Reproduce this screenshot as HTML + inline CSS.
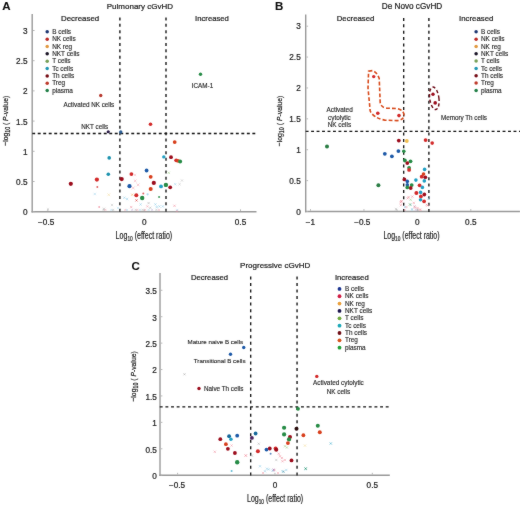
<!DOCTYPE html>
<html><head><meta charset="utf-8"><style>
html,body{margin:0;padding:0;background:#fff;}
svg{display:block;font-family:"Liberation Sans", sans-serif;}
</style></head><body>
<svg width="520" height="506" viewBox="0 0 520 506">
<defs><filter id="bl" x="0" y="0" width="520" height="506" filterUnits="userSpaceOnUse" primitiveUnits="userSpaceOnUse"><feConvolveMatrix order="3" kernelMatrix="1 2 1 2 44 2 1 2 1" divisor="56" edgeMode="none" preserveAlpha="false"/></filter></defs>
<rect width="520" height="506" fill="#fff"/>
<g filter="url(#bl)">
<text x="2.30" y="10.40" font-size="11.5" text-anchor="start" font-weight="bold" fill="#111" stroke="#111" stroke-width="0.1">A</text>
<text x="139.90" y="8.70" font-size="8" text-anchor="middle" font-weight="normal" fill="#242424" stroke="#242424" stroke-width="0.22">Pulmonary cGvHD</text>
<line x1="32.20" y1="14.00" x2="32.20" y2="212.40" stroke="#9a9a9a" stroke-width="1.4"/>
<line x1="31.50" y1="211.70" x2="256.50" y2="211.70" stroke="#9a9a9a" stroke-width="1.4"/>
<line x1="32.90" y1="211.70" x2="34.60" y2="211.70" stroke="#b0b0b0" stroke-width="0.9"/>
<text x="27.50" y="215.15" font-size="8.2" text-anchor="end" font-weight="normal" fill="#242424" stroke="#242424" stroke-width="0.22">0</text>
<line x1="32.90" y1="181.50" x2="34.60" y2="181.50" stroke="#b0b0b0" stroke-width="0.9"/>
<text x="27.50" y="184.95" font-size="8.2" text-anchor="end" font-weight="normal" fill="#242424" stroke="#242424" stroke-width="0.22">0.5</text>
<line x1="32.90" y1="151.30" x2="34.60" y2="151.30" stroke="#b0b0b0" stroke-width="0.9"/>
<text x="27.50" y="154.75" font-size="8.2" text-anchor="end" font-weight="normal" fill="#242424" stroke="#242424" stroke-width="0.22">1</text>
<line x1="32.90" y1="121.10" x2="34.60" y2="121.10" stroke="#b0b0b0" stroke-width="0.9"/>
<text x="27.50" y="124.55" font-size="8.2" text-anchor="end" font-weight="normal" fill="#242424" stroke="#242424" stroke-width="0.22">1.5</text>
<line x1="32.90" y1="90.90" x2="34.60" y2="90.90" stroke="#b0b0b0" stroke-width="0.9"/>
<text x="27.50" y="94.35" font-size="8.2" text-anchor="end" font-weight="normal" fill="#242424" stroke="#242424" stroke-width="0.22">2</text>
<line x1="32.90" y1="60.70" x2="34.60" y2="60.70" stroke="#b0b0b0" stroke-width="0.9"/>
<text x="27.50" y="64.15" font-size="8.2" text-anchor="end" font-weight="normal" fill="#242424" stroke="#242424" stroke-width="0.22">2.5</text>
<line x1="32.90" y1="30.50" x2="34.60" y2="30.50" stroke="#b0b0b0" stroke-width="0.9"/>
<text x="27.50" y="33.95" font-size="8.2" text-anchor="end" font-weight="normal" fill="#242424" stroke="#242424" stroke-width="0.22">3</text>
<line x1="47.87" y1="211.00" x2="47.87" y2="209.30" stroke="#b0b0b0" stroke-width="0.9"/>
<text x="46.17" y="224.70" font-size="8.2" text-anchor="middle" font-weight="normal" fill="#242424" stroke="#242424" stroke-width="0.22">−0.5</text>
<line x1="144.20" y1="211.00" x2="144.20" y2="209.30" stroke="#b0b0b0" stroke-width="0.9"/>
<text x="144.20" y="224.70" font-size="8.2" text-anchor="middle" font-weight="normal" fill="#242424" stroke="#242424" stroke-width="0.22">0</text>
<line x1="240.52" y1="211.00" x2="240.52" y2="209.30" stroke="#b0b0b0" stroke-width="0.9"/>
<text x="240.52" y="224.70" font-size="8.2" text-anchor="middle" font-weight="normal" fill="#242424" stroke="#242424" stroke-width="0.22">0.5</text>
<text transform="translate(8.20,145.70) rotate(-90)" font-size="8.1" fill="#242424" stroke="#242424" stroke-width="0.22" textLength="49.9" lengthAdjust="spacingAndGlyphs">−log<tspan font-size="6.4" dy="2">10</tspan><tspan dy="-2"> ( </tspan><tspan font-style="italic">P</tspan>-value)</text>
<text x="115.60" y="238.90" font-size="10" fill="#242424" stroke="#242424" stroke-width="0.22" textLength="56.6" lengthAdjust="spacingAndGlyphs">Log<tspan font-size="6.8" dy="2">10</tspan><tspan dy="-2"> (effect ratio)</tspan></text>
<line x1="119.90" y1="17.40" x2="119.90" y2="211.71" stroke="#151515" stroke-width="1.35" stroke-dasharray="3.0 3.377"/>
<line x1="166.00" y1="17.40" x2="166.00" y2="211.71" stroke="#151515" stroke-width="1.35" stroke-dasharray="3.0 3.377"/>
<line x1="32.25" y1="133.50" x2="255.25" y2="133.50" stroke="#151515" stroke-width="1.35" stroke-dasharray="2.9 2.603"/>
<text x="61.00" y="21.00" font-size="7.9" text-anchor="start" font-weight="normal" fill="#242424" stroke="#242424" stroke-width="0.22">Decreased</text>
<text x="195.10" y="21.00" font-size="7.7" text-anchor="start" font-weight="normal" fill="#242424" stroke="#242424" stroke-width="0.22">Increased</text>
<circle cx="47.20" cy="31.80" r="1.75" fill="#1e3872"/>
<text x="52.20" y="33.90" font-size="6.4" text-anchor="start" font-weight="normal" fill="#2c2c2c" stroke="#2c2c2c" stroke-width="0.15">B cells</text>
<circle cx="47.20" cy="39.15" r="1.75" fill="#bb2a28"/>
<text x="52.20" y="41.25" font-size="6.4" text-anchor="start" font-weight="normal" fill="#2c2c2c" stroke="#2c2c2c" stroke-width="0.15">NK cells</text>
<circle cx="47.20" cy="46.50" r="1.75" fill="#e29a42"/>
<text x="52.20" y="48.60" font-size="6.4" text-anchor="start" font-weight="normal" fill="#2c2c2c" stroke="#2c2c2c" stroke-width="0.15">NK reg</text>
<circle cx="47.20" cy="53.85" r="1.75" fill="#1a1626"/>
<text x="52.20" y="55.95" font-size="6.4" text-anchor="start" font-weight="normal" fill="#2c2c2c" stroke="#2c2c2c" stroke-width="0.15">NKT cells</text>
<circle cx="47.20" cy="61.20" r="1.75" fill="#78a058"/>
<text x="52.20" y="63.30" font-size="6.4" text-anchor="start" font-weight="normal" fill="#2c2c2c" stroke="#2c2c2c" stroke-width="0.15">T cells</text>
<circle cx="47.20" cy="68.55" r="1.75" fill="#2498b4"/>
<text x="52.20" y="70.65" font-size="6.4" text-anchor="start" font-weight="normal" fill="#2c2c2c" stroke="#2c2c2c" stroke-width="0.15">Tc cells</text>
<circle cx="47.20" cy="75.90" r="1.75" fill="#761018"/>
<text x="52.20" y="78.00" font-size="6.4" text-anchor="start" font-weight="normal" fill="#2c2c2c" stroke="#2c2c2c" stroke-width="0.15">Th cells</text>
<circle cx="47.20" cy="83.25" r="1.75" fill="#be3a2c"/>
<text x="52.20" y="85.35" font-size="6.4" text-anchor="start" font-weight="normal" fill="#2c2c2c" stroke="#2c2c2c" stroke-width="0.15">Treg</text>
<circle cx="47.20" cy="90.60" r="1.75" fill="#228048"/>
<text x="52.20" y="92.70" font-size="6.4" text-anchor="start" font-weight="normal" fill="#2c2c2c" stroke="#2c2c2c" stroke-width="0.15">plasma</text>
<text x="63.50" y="106.70" font-size="6.3" text-anchor="start" font-weight="normal" fill="#2c2c2c" stroke="#2c2c2c" stroke-width="0.15">Activated NK cells</text>
<text x="81.30" y="128.80" font-size="6.3" text-anchor="start" font-weight="normal" fill="#2c2c2c" stroke="#2c2c2c" stroke-width="0.15">NKT cells</text>
<text x="191.80" y="87.80" font-size="6.3" text-anchor="start" font-weight="normal" fill="#2c2c2c" stroke="#2c2c2c" stroke-width="0.15">ICAM-1</text>
<text x="275.00" y="10.40" font-size="11.5" text-anchor="start" font-weight="bold" fill="#111" stroke="#111" stroke-width="0.1">B</text>
<text x="412.00" y="9.30" font-size="8.2" text-anchor="middle" font-weight="normal" fill="#242424" stroke="#242424" stroke-width="0.22">De Novo cGvHD</text>
<line x1="305.70" y1="14.50" x2="305.70" y2="212.20" stroke="#9a9a9a" stroke-width="1.4"/>
<line x1="305.00" y1="211.50" x2="520.00" y2="211.50" stroke="#9a9a9a" stroke-width="1.4"/>
<line x1="306.40" y1="211.50" x2="308.10" y2="211.50" stroke="#b0b0b0" stroke-width="0.9"/>
<text x="300.70" y="214.50" font-size="8.2" text-anchor="end" font-weight="normal" fill="#242424" stroke="#242424" stroke-width="0.22">0</text>
<line x1="306.40" y1="180.62" x2="308.10" y2="180.62" stroke="#b0b0b0" stroke-width="0.9"/>
<text x="300.70" y="183.62" font-size="8.2" text-anchor="end" font-weight="normal" fill="#242424" stroke="#242424" stroke-width="0.22">0.5</text>
<line x1="306.40" y1="149.73" x2="308.10" y2="149.73" stroke="#b0b0b0" stroke-width="0.9"/>
<text x="300.70" y="152.73" font-size="8.2" text-anchor="end" font-weight="normal" fill="#242424" stroke="#242424" stroke-width="0.22">1</text>
<line x1="306.40" y1="118.84" x2="308.10" y2="118.84" stroke="#b0b0b0" stroke-width="0.9"/>
<text x="300.70" y="121.84" font-size="8.2" text-anchor="end" font-weight="normal" fill="#242424" stroke="#242424" stroke-width="0.22">1.5</text>
<line x1="306.40" y1="87.96" x2="308.10" y2="87.96" stroke="#b0b0b0" stroke-width="0.9"/>
<text x="300.70" y="90.96" font-size="8.2" text-anchor="end" font-weight="normal" fill="#242424" stroke="#242424" stroke-width="0.22">2</text>
<line x1="306.40" y1="57.07" x2="308.10" y2="57.07" stroke="#b0b0b0" stroke-width="0.9"/>
<text x="300.70" y="60.07" font-size="8.2" text-anchor="end" font-weight="normal" fill="#242424" stroke="#242424" stroke-width="0.22">2.5</text>
<line x1="306.40" y1="26.19" x2="308.10" y2="26.19" stroke="#b0b0b0" stroke-width="0.9"/>
<text x="300.70" y="29.19" font-size="8.2" text-anchor="end" font-weight="normal" fill="#242424" stroke="#242424" stroke-width="0.22">3</text>
<line x1="310.50" y1="210.80" x2="310.50" y2="209.10" stroke="#b0b0b0" stroke-width="0.9"/>
<text x="310.50" y="224.70" font-size="8.2" text-anchor="middle" font-weight="normal" fill="#242424" stroke="#242424" stroke-width="0.22">−1</text>
<line x1="363.94" y1="210.80" x2="363.94" y2="209.10" stroke="#b0b0b0" stroke-width="0.9"/>
<text x="362.33" y="224.70" font-size="8.2" text-anchor="middle" font-weight="normal" fill="#242424" stroke="#242424" stroke-width="0.22">−0.5</text>
<line x1="417.37" y1="210.80" x2="417.37" y2="209.10" stroke="#b0b0b0" stroke-width="0.9"/>
<text x="417.37" y="224.70" font-size="8.2" text-anchor="middle" font-weight="normal" fill="#242424" stroke="#242424" stroke-width="0.22">0</text>
<line x1="470.81" y1="210.80" x2="470.81" y2="209.10" stroke="#b0b0b0" stroke-width="0.9"/>
<text x="470.81" y="224.70" font-size="8.2" text-anchor="middle" font-weight="normal" fill="#242424" stroke="#242424" stroke-width="0.22">0.5</text>
<text transform="translate(281.50,146.30) rotate(-90)" font-size="8.1" fill="#242424" stroke="#242424" stroke-width="0.22" textLength="50.7" lengthAdjust="spacingAndGlyphs">−log<tspan font-size="6.4" dy="2">10</tspan><tspan dy="-2"> ( </tspan><tspan font-style="italic">P</tspan>-value)</text>
<text x="383.40" y="239.10" font-size="10" fill="#242424" stroke="#242424" stroke-width="0.22" textLength="56.2" lengthAdjust="spacingAndGlyphs">Log<tspan font-size="6.8" dy="2">10</tspan><tspan dy="-2"> (effect ratio)</tspan></text>
<line x1="403.70" y1="17.90" x2="403.70" y2="212.09" stroke="#151515" stroke-width="1.35" stroke-dasharray="3.0 3.373"/>
<line x1="428.90" y1="17.90" x2="428.90" y2="212.09" stroke="#151515" stroke-width="1.35" stroke-dasharray="3.0 3.373"/>
<line x1="305.65" y1="131.40" x2="521.88" y2="131.40" stroke="#151515" stroke-width="1.35" stroke-dasharray="2.9 2.570"/>
<text x="336.70" y="21.10" font-size="7.8" text-anchor="start" font-weight="normal" fill="#242424" stroke="#242424" stroke-width="0.22">Decreased</text>
<text x="459.10" y="21.10" font-size="7.8" text-anchor="start" font-weight="normal" fill="#242424" stroke="#242424" stroke-width="0.22">Increased</text>
<circle cx="476.10" cy="31.80" r="1.75" fill="#1e3872"/>
<text x="481.00" y="33.90" font-size="6.4" text-anchor="start" font-weight="normal" fill="#2c2c2c" stroke="#2c2c2c" stroke-width="0.15">B cells</text>
<circle cx="476.10" cy="39.13" r="1.75" fill="#bb2a28"/>
<text x="481.00" y="41.23" font-size="6.4" text-anchor="start" font-weight="normal" fill="#2c2c2c" stroke="#2c2c2c" stroke-width="0.15">NK cells</text>
<circle cx="476.10" cy="46.46" r="1.75" fill="#e29a42"/>
<text x="481.00" y="48.56" font-size="6.4" text-anchor="start" font-weight="normal" fill="#2c2c2c" stroke="#2c2c2c" stroke-width="0.15">NK reg</text>
<circle cx="476.10" cy="53.79" r="1.75" fill="#1a1626"/>
<text x="481.00" y="55.89" font-size="6.4" text-anchor="start" font-weight="normal" fill="#2c2c2c" stroke="#2c2c2c" stroke-width="0.15">NKT cells</text>
<circle cx="476.10" cy="61.12" r="1.75" fill="#78a058"/>
<text x="481.00" y="63.22" font-size="6.4" text-anchor="start" font-weight="normal" fill="#2c2c2c" stroke="#2c2c2c" stroke-width="0.15">T cells</text>
<circle cx="476.10" cy="68.45" r="1.75" fill="#2498b4"/>
<text x="481.00" y="70.55" font-size="6.4" text-anchor="start" font-weight="normal" fill="#2c2c2c" stroke="#2c2c2c" stroke-width="0.15">Tc cells</text>
<circle cx="476.10" cy="75.78" r="1.75" fill="#761018"/>
<text x="481.00" y="77.88" font-size="6.4" text-anchor="start" font-weight="normal" fill="#2c2c2c" stroke="#2c2c2c" stroke-width="0.15">Th cells</text>
<circle cx="476.10" cy="83.11" r="1.75" fill="#be3a2c"/>
<text x="481.00" y="85.21" font-size="6.4" text-anchor="start" font-weight="normal" fill="#2c2c2c" stroke="#2c2c2c" stroke-width="0.15">Treg</text>
<circle cx="476.10" cy="90.44" r="1.75" fill="#228048"/>
<text x="481.00" y="92.54" font-size="6.4" text-anchor="start" font-weight="normal" fill="#2c2c2c" stroke="#2c2c2c" stroke-width="0.15">plasma</text>
<text x="339.60" y="111.50" font-size="6.4" text-anchor="middle" font-weight="normal" fill="#2c2c2c" stroke="#2c2c2c" stroke-width="0.15">Activated</text>
<text x="339.40" y="119.80" font-size="6.4" text-anchor="middle" font-weight="normal" fill="#2c2c2c" stroke="#2c2c2c" stroke-width="0.15">cytolytic</text>
<text x="339.40" y="127.30" font-size="6.4" text-anchor="middle" font-weight="normal" fill="#2c2c2c" stroke="#2c2c2c" stroke-width="0.15">NK cells</text>
<text x="440.90" y="120.00" font-size="6.3" text-anchor="start" font-weight="normal" fill="#2c2c2c" stroke="#2c2c2c" stroke-width="0.15">Memory Th cells</text>
<path d="M368.6 71.2 L372.4 70.6 Q377.2 72.4 379.2 78.5 L380.2 102.5 Q381.2 107.6 386.5 108.1 L397.5 108.6 Q403.8 110.2 404.0 115.2 Q403.6 120.2 397.0 120.6 L385.0 120.2 Q373.6 118.0 370.2 111.0 L368.0 88.0 Z" fill="none" stroke="#d84c1c" stroke-width="1.6" stroke-dasharray="3.8 2.1"/>
<ellipse cx="434.3" cy="98.3" rx="4.6" ry="11.3" transform="rotate(-8 434.3 98.3)" fill="none" stroke="#6e1018" stroke-width="1.45" stroke-dasharray="3.2 2.3"/>
<text x="131.50" y="269.60" font-size="11.5" text-anchor="start" font-weight="bold" fill="#111" stroke="#111" stroke-width="0.1">C</text>
<text x="275.20" y="267.70" font-size="8" text-anchor="middle" font-weight="normal" fill="#242424" stroke="#242424" stroke-width="0.22">Progressive cGvHD</text>
<line x1="160.00" y1="273.00" x2="160.00" y2="475.90" stroke="#9a9a9a" stroke-width="1.4"/>
<line x1="159.30" y1="475.20" x2="389.80" y2="475.20" stroke="#9a9a9a" stroke-width="1.4"/>
<line x1="160.70" y1="475.20" x2="162.40" y2="475.20" stroke="#b0b0b0" stroke-width="0.9"/>
<text x="156.80" y="479.10" font-size="8.2" text-anchor="end" font-weight="normal" fill="#242424" stroke="#242424" stroke-width="0.22">0</text>
<line x1="160.70" y1="448.78" x2="162.40" y2="448.78" stroke="#b0b0b0" stroke-width="0.9"/>
<text x="156.80" y="452.68" font-size="8.2" text-anchor="end" font-weight="normal" fill="#242424" stroke="#242424" stroke-width="0.22">0.5</text>
<line x1="160.70" y1="422.37" x2="162.40" y2="422.37" stroke="#b0b0b0" stroke-width="0.9"/>
<text x="156.80" y="426.27" font-size="8.2" text-anchor="end" font-weight="normal" fill="#242424" stroke="#242424" stroke-width="0.22">1</text>
<line x1="160.70" y1="395.95" x2="162.40" y2="395.95" stroke="#b0b0b0" stroke-width="0.9"/>
<text x="156.80" y="399.85" font-size="8.2" text-anchor="end" font-weight="normal" fill="#242424" stroke="#242424" stroke-width="0.22">1.5</text>
<line x1="160.70" y1="369.54" x2="162.40" y2="369.54" stroke="#b0b0b0" stroke-width="0.9"/>
<text x="156.80" y="373.44" font-size="8.2" text-anchor="end" font-weight="normal" fill="#242424" stroke="#242424" stroke-width="0.22">2</text>
<line x1="160.70" y1="343.12" x2="162.40" y2="343.12" stroke="#b0b0b0" stroke-width="0.9"/>
<text x="156.80" y="347.02" font-size="8.2" text-anchor="end" font-weight="normal" fill="#242424" stroke="#242424" stroke-width="0.22">2.5</text>
<line x1="160.70" y1="316.71" x2="162.40" y2="316.71" stroke="#b0b0b0" stroke-width="0.9"/>
<text x="156.80" y="320.61" font-size="8.2" text-anchor="end" font-weight="normal" fill="#242424" stroke="#242424" stroke-width="0.22">3</text>
<line x1="160.70" y1="290.29" x2="162.40" y2="290.29" stroke="#b0b0b0" stroke-width="0.9"/>
<text x="156.80" y="294.19" font-size="8.2" text-anchor="end" font-weight="normal" fill="#242424" stroke="#242424" stroke-width="0.22">3.5</text>
<line x1="177.60" y1="474.50" x2="177.60" y2="472.80" stroke="#b0b0b0" stroke-width="0.9"/>
<text x="177.00" y="488.00" font-size="8.2" text-anchor="middle" font-weight="normal" fill="#242424" stroke="#242424" stroke-width="0.22">−0.5</text>
<line x1="274.95" y1="474.50" x2="274.95" y2="472.80" stroke="#b0b0b0" stroke-width="0.9"/>
<text x="274.95" y="488.00" font-size="8.2" text-anchor="middle" font-weight="normal" fill="#242424" stroke="#242424" stroke-width="0.22">0</text>
<line x1="372.30" y1="474.50" x2="372.30" y2="472.80" stroke="#b0b0b0" stroke-width="0.9"/>
<text x="372.30" y="488.00" font-size="8.2" text-anchor="middle" font-weight="normal" fill="#242424" stroke="#242424" stroke-width="0.22">0.5</text>
<text transform="translate(135.80,401.60) rotate(-90)" font-size="8.1" fill="#242424" stroke="#242424" stroke-width="0.22" textLength="50.3" lengthAdjust="spacingAndGlyphs">−log<tspan font-size="6.4" dy="2">10</tspan><tspan dy="-2"> ( </tspan><tspan font-style="italic">P</tspan>-value)</text>
<text x="247.00" y="501.90" font-size="10" fill="#242424" stroke="#242424" stroke-width="0.22" textLength="56.2" lengthAdjust="spacingAndGlyphs">Log<tspan font-size="6.8" dy="2">10</tspan><tspan dy="-2"> (effect ratio)</tspan></text>
<line x1="250.70" y1="276.50" x2="250.70" y2="475.40" stroke="#151515" stroke-width="1.35" stroke-dasharray="3.0 3.530"/>
<line x1="297.05" y1="276.50" x2="297.05" y2="475.40" stroke="#151515" stroke-width="1.35" stroke-dasharray="3.0 3.530"/>
<line x1="159.75" y1="406.90" x2="388.65" y2="406.90" stroke="#151515" stroke-width="1.35" stroke-dasharray="2.9 2.750"/>
<text x="190.90" y="279.50" font-size="7.7" text-anchor="start" font-weight="normal" fill="#242424" stroke="#242424" stroke-width="0.22">Decreased</text>
<text x="334.90" y="279.90" font-size="7.7" text-anchor="start" font-weight="normal" fill="#242424" stroke="#242424" stroke-width="0.22">Increased</text>
<circle cx="339.50" cy="288.90" r="1.9" fill="#1a3590"/>
<text x="345.00" y="291.00" font-size="6.4" text-anchor="start" font-weight="normal" fill="#2c2c2c" stroke="#2c2c2c" stroke-width="0.15">B cells</text>
<circle cx="339.50" cy="296.25" r="1.9" fill="#d01f45"/>
<text x="345.00" y="298.35" font-size="6.4" text-anchor="start" font-weight="normal" fill="#2c2c2c" stroke="#2c2c2c" stroke-width="0.15">NK cells</text>
<circle cx="339.50" cy="303.60" r="1.9" fill="#eaa03c"/>
<text x="345.00" y="305.70" font-size="6.4" text-anchor="start" font-weight="normal" fill="#2c2c2c" stroke="#2c2c2c" stroke-width="0.15">NK reg</text>
<circle cx="339.50" cy="310.95" r="1.9" fill="#1a164e"/>
<text x="345.00" y="313.05" font-size="6.4" text-anchor="start" font-weight="normal" fill="#2c2c2c" stroke="#2c2c2c" stroke-width="0.15">NKT cells</text>
<circle cx="339.50" cy="318.30" r="1.9" fill="#72aa40"/>
<text x="345.00" y="320.40" font-size="6.4" text-anchor="start" font-weight="normal" fill="#2c2c2c" stroke="#2c2c2c" stroke-width="0.15">T cells</text>
<circle cx="339.50" cy="325.65" r="1.9" fill="#1aa8b8"/>
<text x="345.00" y="327.75" font-size="6.4" text-anchor="start" font-weight="normal" fill="#2c2c2c" stroke="#2c2c2c" stroke-width="0.15">Tc cells</text>
<circle cx="339.50" cy="333.00" r="1.9" fill="#700c18"/>
<text x="345.00" y="335.10" font-size="6.4" text-anchor="start" font-weight="normal" fill="#2c2c2c" stroke="#2c2c2c" stroke-width="0.15">Th cells</text>
<circle cx="339.50" cy="340.35" r="1.9" fill="#d8521c"/>
<text x="345.00" y="342.45" font-size="6.4" text-anchor="start" font-weight="normal" fill="#2c2c2c" stroke="#2c2c2c" stroke-width="0.15">Treg</text>
<circle cx="339.50" cy="347.70" r="1.9" fill="#22a03a"/>
<text x="345.00" y="349.80" font-size="6.4" text-anchor="start" font-weight="normal" fill="#2c2c2c" stroke="#2c2c2c" stroke-width="0.15">plasma</text>
<text x="187.50" y="344.00" font-size="6.2" text-anchor="start" font-weight="normal" fill="#2c2c2c" stroke="#2c2c2c" stroke-width="0.15">Mature naive B cells</text>
<text x="193.80" y="362.80" font-size="6.2" text-anchor="start" font-weight="normal" fill="#2c2c2c" stroke="#2c2c2c" stroke-width="0.15">Transitional B cells</text>
<text x="204.00" y="391.30" font-size="6.3" text-anchor="start" font-weight="normal" fill="#2c2c2c" stroke="#2c2c2c" stroke-width="0.15">Naive Th cells</text>
<text x="338.40" y="385.30" font-size="6.4" text-anchor="middle" font-weight="normal" fill="#2c2c2c" stroke="#2c2c2c" stroke-width="0.15">Activated cytolytic</text>
<text x="338.40" y="394.00" font-size="6.4" text-anchor="middle" font-weight="normal" fill="#2c2c2c" stroke="#2c2c2c" stroke-width="0.15">NK cells</text>
<circle cx="100.75" cy="95.50" r="1.7000000000000002" fill="#b83a30"/>
<circle cx="108.25" cy="131.75" r="1.6" fill="#2c1a48"/>
<circle cx="120.75" cy="132.00" r="1.7000000000000002" fill="#2b5f96"/>
<circle cx="150.50" cy="124.25" r="1.8" fill="#d32a2a"/>
<circle cx="200.50" cy="74.25" r="1.7000000000000002" fill="#278c46"/>
<circle cx="174.70" cy="142.10" r="1.9000000000000001" fill="#d8401e"/>
<circle cx="70.80" cy="183.80" r="2.1" fill="#9c0f1e"/>
<circle cx="96.90" cy="179.60" r="2.1" fill="#d32a2a"/>
<circle cx="97.30" cy="186.90" r="1.0" fill="#d32a2a" fill-opacity="0.7"/>
<circle cx="109.20" cy="157.90" r="1.8" fill="#1a92ae"/>
<circle cx="108.30" cy="174.20" r="1.8" fill="#1a92ae"/>
<path d="M93.65 192.85L95.95 195.15M93.65 195.15L95.95 192.85" stroke="#8ccbe8" stroke-width="0.85" stroke-opacity="0.50" fill="none"/>
<path d="M107.42 193.42L110.18 196.18M107.42 196.18L110.18 193.42" stroke="#f2d58a" stroke-width="0.85" stroke-opacity="0.50" fill="none"/>
<circle cx="99.20" cy="207.00" r="1.0" fill="#f08a9a" fill-opacity="0.7"/>
<path d="M102.85 207.65L105.15 209.95M102.85 209.95L105.15 207.65" stroke="#a0a0a0" stroke-width="0.85" stroke-opacity="0.50" fill="none"/>
<circle cx="121.70" cy="179.10" r="2.1" fill="#9c0f1e"/>
<circle cx="131.40" cy="174.10" r="1.9000000000000001" fill="#d32a2a"/>
<circle cx="146.60" cy="170.50" r="1.9000000000000001" fill="#1f5aa8"/>
<circle cx="150.70" cy="176.80" r="1.9000000000000001" fill="#d8401e"/>
<circle cx="153.80" cy="182.90" r="2.1" fill="#9c0f1e"/>
<circle cx="129.50" cy="186.20" r="2.1" fill="#1f5aa8"/>
<path d="M131.70 186.50L134.69 189.50M131.70 189.50L134.69 186.50" stroke="#f08a9a" stroke-width="0.85" stroke-opacity="0.50" fill="none"/>
<path d="M133.82 179.52L136.58 182.28M133.82 182.28L136.58 179.52" stroke="#f08a9a" stroke-width="0.85" stroke-opacity="0.50" fill="none"/>
<path d="M136.72 183.52L139.48 186.28M136.72 186.28L139.48 183.52" stroke="#f08a9a" stroke-width="0.85" stroke-opacity="0.50" fill="none"/>
<circle cx="150.70" cy="188.90" r="2.0" fill="#d8401e"/>
<circle cx="136.30" cy="195.30" r="2.0" fill="#d32a2a"/>
<path d="M131.05 193.55L133.35 195.85M131.05 195.85L133.35 193.55" stroke="#f2a244" stroke-width="0.85" stroke-opacity="0.50" fill="none"/>
<circle cx="142.20" cy="198.00" r="2.2" fill="#278c46"/>
<circle cx="143.30" cy="193.60" r="1.0" fill="#d32a2a" fill-opacity="0.7"/>
<path d="M135.35 199.25L137.65 201.55M135.35 201.55L137.65 199.25" stroke="#d32a2a" stroke-width="0.85" stroke-opacity="0.60" fill="none"/>
<circle cx="147.60" cy="194.30" r="1.1" fill="#8ccbe8" fill-opacity="0.7"/>
<circle cx="159.10" cy="197.00" r="1.1" fill="#278c46" fill-opacity="0.8"/>
<circle cx="161.00" cy="186.40" r="1.9000000000000001" fill="#22a0c4"/>
<circle cx="165.90" cy="184.90" r="2.2" fill="#278c46"/>
<circle cx="170.20" cy="187.30" r="1.9000000000000001" fill="#9c0f1e"/>
<path d="M167.65 171.65L169.95 173.95M167.65 173.95L169.95 171.65" stroke="#9fd08a" stroke-width="0.85" stroke-opacity="0.60" fill="none"/>
<path d="M174.05 183.05L176.35 185.35M174.05 185.35L176.35 183.05" stroke="#8ccbe8" stroke-width="0.85" stroke-opacity="0.50" fill="none"/>
<path d="M178.45 183.05L180.75 185.35M178.45 185.35L180.75 183.05" stroke="#a0a0a0" stroke-width="0.85" stroke-opacity="0.40" fill="none"/>
<path d="M180.85 179.35L183.15 181.65M180.85 181.65L183.15 179.35" stroke="#a0a0a0" stroke-width="0.85" stroke-opacity="0.40" fill="none"/>
<path d="M123.25 196.55L125.55 198.85M123.25 198.85L125.55 196.55" stroke="#8ccbe8" stroke-width="0.85" stroke-opacity="0.60" fill="none"/>
<path d="M125.95 197.85L128.25 200.15M125.95 200.15L128.25 197.85" stroke="#8ccbe8" stroke-width="0.85" stroke-opacity="0.60" fill="none"/>
<path d="M139.45 203.25L141.75 205.55M139.45 205.55L141.75 203.25" stroke="#8ccbe8" stroke-width="0.85" stroke-opacity="0.60" fill="none"/>
<path d="M130.05 205.95L132.35 208.25M130.05 208.25L132.35 205.95" stroke="#f08a9a" stroke-width="0.85" stroke-opacity="0.60" fill="none"/>
<path d="M147.45 201.95L149.75 204.25M147.45 204.25L149.75 201.95" stroke="#a0a0a0" stroke-width="0.85" stroke-opacity="0.50" fill="none"/>
<path d="M146.15 205.25L148.45 207.55M146.15 207.55L148.45 205.25" stroke="#f08a9a" stroke-width="0.85" stroke-opacity="0.50" fill="none"/>
<path d="M149.15 206.65L151.45 208.95M149.15 208.95L151.45 206.65" stroke="#a0a0a0" stroke-width="0.85" stroke-opacity="0.50" fill="none"/>
<path d="M154.25 203.25L156.55 205.55M154.25 205.55L156.55 203.25" stroke="#8ccbe8" stroke-width="0.85" stroke-opacity="0.60" fill="none"/>
<path d="M155.55 205.95L157.85 208.25M155.55 208.25L157.85 205.95" stroke="#8ccbe8" stroke-width="0.85" stroke-opacity="0.60" fill="none"/>
<path d="M158.25 205.25L160.55 207.55M158.25 207.55L160.55 205.25" stroke="#8ccbe8" stroke-width="0.85" stroke-opacity="0.60" fill="none"/>
<path d="M161.65 205.25L163.95 207.55M161.65 207.55L163.95 205.25" stroke="#8ccbe8" stroke-width="0.85" stroke-opacity="0.60" fill="none"/>
<path d="M173.35 204.65L175.65 206.95M173.35 206.95L175.65 204.65" stroke="#f08a9a" stroke-width="0.85" stroke-opacity="0.60" fill="none"/>
<path d="M175.75 209.85L178.05 212.15M175.75 212.15L178.05 209.85" stroke="#f08a9a" stroke-width="0.85" stroke-opacity="0.50" fill="none"/>
<circle cx="171.00" cy="157.20" r="1.9000000000000001" fill="#9c0f1e"/>
<circle cx="163.80" cy="156.90" r="1.7000000000000002" fill="#22a0c4"/>
<circle cx="176.20" cy="160.30" r="1.9000000000000001" fill="#d32a2a"/>
<circle cx="178.00" cy="160.80" r="1.9000000000000001" fill="#d8401e"/>
<circle cx="180.10" cy="161.60" r="2.0" fill="#278c46"/>
<path d="M133.85 173.85L136.15 176.15M133.85 176.15L136.15 173.85" stroke="#f08a9a" stroke-width="0.85" stroke-opacity="0.40" fill="none"/>
<path d="M110.85 203.85L113.15 206.15M110.85 206.15L113.15 203.85" stroke="#a0a0a0" stroke-width="0.85" stroke-opacity="0.40" fill="none"/>
<path d="M116.85 206.85L119.15 209.15M116.85 209.15L119.15 206.85" stroke="#8ccbe8" stroke-width="0.85" stroke-opacity="0.40" fill="none"/>
<path d="M46.85 207.85L49.15 210.15M46.85 210.15L49.15 207.85" stroke="#a0a0a0" stroke-width="0.85" stroke-opacity="0.30" fill="none"/>
<circle cx="373.70" cy="76.60" r="1.7000000000000002" fill="#d32a2a"/>
<circle cx="377.80" cy="113.20" r="1.8" fill="#d32a2a"/>
<circle cx="399.00" cy="115.60" r="1.8" fill="#d32a2a"/>
<circle cx="433.00" cy="94.20" r="1.7000000000000002" fill="#9c0f1e"/>
<circle cx="435.20" cy="102.90" r="1.8" fill="#9c0f1e"/>
<circle cx="327.00" cy="146.50" r="2.0" fill="#2a7e44"/>
<circle cx="378.40" cy="185.20" r="2.0" fill="#2a7e44"/>
<circle cx="398.80" cy="140.60" r="1.9000000000000001" fill="#9c0f1e"/>
<circle cx="406.80" cy="141.00" r="1.9000000000000001" fill="#f0b840" fill-opacity="0.9"/>
<circle cx="425.60" cy="140.10" r="1.9000000000000001" fill="#d32a2a"/>
<circle cx="432.20" cy="143.10" r="1.8" fill="#d32a2a"/>
<circle cx="384.80" cy="153.80" r="1.9000000000000001" fill="#1f5aa8"/>
<circle cx="391.90" cy="156.30" r="1.9000000000000001" fill="#1f5aa8"/>
<circle cx="398.40" cy="151.10" r="1.9000000000000001" fill="#1f5aa8"/>
<circle cx="403.80" cy="151.30" r="1.8" fill="#278c46"/>
<circle cx="404.90" cy="160.50" r="1.9000000000000001" fill="#278c46"/>
<circle cx="410.50" cy="161.30" r="1.9000000000000001" fill="#278c46"/>
<circle cx="407.30" cy="163.10" r="1.9000000000000001" fill="#9c0f1e"/>
<circle cx="409.10" cy="167.80" r="1.9000000000000001" fill="#278c46"/>
<circle cx="409.10" cy="169.90" r="1.9000000000000001" fill="#d32a2a"/>
<circle cx="424.60" cy="169.40" r="1.8" fill="#22a0c4"/>
<circle cx="423.50" cy="174.10" r="1.8" fill="#d8401e"/>
<circle cx="421.70" cy="176.70" r="1.9000000000000001" fill="#d32a2a"/>
<circle cx="425.30" cy="177.30" r="1.9000000000000001" fill="#9c0f1e"/>
<circle cx="424.30" cy="180.90" r="1.8" fill="#22a0c4"/>
<circle cx="404.40" cy="179.40" r="1.9000000000000001" fill="#9c0f1e"/>
<circle cx="407.30" cy="181.40" r="1.8" fill="#1f5aa8"/>
<circle cx="415.90" cy="180.10" r="1.8" fill="#22a0c4"/>
<circle cx="407.30" cy="184.90" r="1.8" fill="#1f5aa8"/>
<circle cx="411.70" cy="185.10" r="1.9000000000000001" fill="#278c46"/>
<circle cx="407.30" cy="187.40" r="1.9000000000000001" fill="#278c46"/>
<circle cx="410.70" cy="188.00" r="1.9000000000000001" fill="#9c0f1e"/>
<circle cx="419.60" cy="185.30" r="1.9000000000000001" fill="#d32a2a"/>
<circle cx="422.40" cy="187.40" r="1.8" fill="#22a0c4"/>
<circle cx="416.40" cy="193.00" r="2.0" fill="#d32a2a"/>
<circle cx="420.60" cy="192.40" r="1.8" fill="#22a0c4"/>
<circle cx="424.30" cy="194.50" r="1.9000000000000001" fill="#9c0f1e"/>
<circle cx="420.90" cy="196.40" r="1.9000000000000001" fill="#d32a2a"/>
<circle cx="420.60" cy="199.70" r="1.8" fill="#22a0c4"/>
<circle cx="424.10" cy="201.30" r="1.9000000000000001" fill="#d32a2a"/>
<path d="M407.45 195.95L409.75 198.25M407.45 198.25L409.75 195.95" stroke="#f08a9a" stroke-width="0.85" stroke-opacity="0.60" fill="none"/>
<path d="M411.15 195.45L413.45 197.75M411.15 197.75L413.45 195.45" stroke="#f08a9a" stroke-width="0.85" stroke-opacity="0.60" fill="none"/>
<path d="M409.55 198.55L411.85 200.85M409.55 200.85L411.85 198.55" stroke="#9fd08a" stroke-width="0.85" stroke-opacity="0.60" fill="none"/>
<path d="M400.35 200.15L402.65 202.45M400.35 202.45L402.65 200.15" stroke="#f08a9a" stroke-width="0.85" stroke-opacity="0.60" fill="none"/>
<path d="M399.65 201.25L401.95 203.55M399.65 203.55L401.95 201.25" stroke="#f08a9a" stroke-width="0.85" stroke-opacity="0.60" fill="none"/>
<path d="M408.45 203.35L410.75 205.65M408.45 205.65L410.75 203.35" stroke="#9fd08a" stroke-width="0.85" stroke-opacity="0.60" fill="none"/>
<path d="M412.65 201.75L414.95 204.05M412.65 204.05L414.95 201.75" stroke="#f08a9a" stroke-width="0.85" stroke-opacity="0.60" fill="none"/>
<path d="M413.75 206.45L416.05 208.75M413.75 208.75L416.05 206.45" stroke="#f08a9a" stroke-width="0.85" stroke-opacity="0.60" fill="none"/>
<path d="M416.35 206.95L418.65 209.25M416.35 209.25L418.65 206.95" stroke="#f08a9a" stroke-width="0.85" stroke-opacity="0.60" fill="none"/>
<path d="M403.75 205.95L406.05 208.25M403.75 208.25L406.05 205.95" stroke="#8ccbe8" stroke-width="0.85" stroke-opacity="0.60" fill="none"/>
<path d="M426.25 204.35L428.55 206.65M426.25 206.65L428.55 204.35" stroke="#f08a9a" stroke-width="0.85" stroke-opacity="0.60" fill="none"/>
<path d="M427.35 197.55L429.65 199.85M427.35 199.85L429.65 197.55" stroke="#8ccbe8" stroke-width="0.85" stroke-opacity="0.60" fill="none"/>
<path d="M410.85 207.85L413.15 210.15M410.85 210.15L413.15 207.85" stroke="#8ccbe8" stroke-width="0.85" stroke-opacity="0.50" fill="none"/>
<path d="M418.85 208.35L421.15 210.65M418.85 210.65L421.15 208.35" stroke="#f08a9a" stroke-width="0.85" stroke-opacity="0.50" fill="none"/>
<path d="M394.85 207.85L397.15 210.15M394.85 210.15L397.15 207.85" stroke="#a0a0a0" stroke-width="0.85" stroke-opacity="0.40" fill="none"/>
<circle cx="243.75" cy="347.50" r="1.7000000000000002" fill="#1f5aa8"/>
<circle cx="230.50" cy="354.30" r="1.7000000000000002" fill="#1f5aa8"/>
<circle cx="199.00" cy="388.50" r="1.7000000000000002" fill="#9c0f1e"/>
<path d="M183.47 373.26L185.53 375.34M183.47 375.34L185.53 373.26" stroke="#a0a0a0" stroke-width="0.85" stroke-opacity="0.60" fill="none"/>
<circle cx="316.80" cy="376.40" r="1.7000000000000002" fill="#d32a2a"/>
<circle cx="298.00" cy="408.80" r="1.9000000000000001" fill="#278c46"/>
<circle cx="220.30" cy="439.20" r="1.9000000000000001" fill="#9c0f1e"/>
<circle cx="229.10" cy="436.20" r="1.9000000000000001" fill="#12679a"/>
<circle cx="230.90" cy="439.20" r="1.8" fill="#22a0c4"/>
<circle cx="237.20" cy="435.70" r="1.9000000000000001" fill="#1f5aa8"/>
<circle cx="225.90" cy="444.20" r="1.9000000000000001" fill="#d8401e"/>
<circle cx="227.90" cy="448.80" r="1.9000000000000001" fill="#9c0f1e"/>
<circle cx="234.90" cy="453.00" r="1.9000000000000001" fill="#9c0f1e"/>
<circle cx="237.20" cy="462.30" r="2.2" fill="#278c46"/>
<path d="M213.65 450.65L215.95 452.95M213.65 452.95L215.95 450.65" stroke="#f08a9a" stroke-width="0.85" stroke-opacity="0.60" fill="none"/>
<path d="M230.45 444.35L232.75 446.65M230.45 446.65L232.75 444.35" stroke="#f08a9a" stroke-width="0.85" stroke-opacity="0.50" fill="none"/>
<path d="M244.75 454.35L247.05 456.65M244.75 456.65L247.05 454.35" stroke="#f08a9a" stroke-width="0.85" stroke-opacity="0.60" fill="none"/>
<circle cx="231.60" cy="471.10" r="1.0" fill="#22a0c4" fill-opacity="0.7"/>
<circle cx="284.10" cy="427.75" r="2.1" fill="#278c46"/>
<circle cx="296.50" cy="428.75" r="2.0" fill="#2a0a10"/>
<circle cx="284.10" cy="434.40" r="2.1" fill="#278c46"/>
<circle cx="290.00" cy="436.90" r="2.0" fill="#9c0f1e"/>
<circle cx="289.00" cy="439.40" r="2.1" fill="#278c46"/>
<circle cx="287.90" cy="443.10" r="1.9000000000000001" fill="#d8401e"/>
<circle cx="303.40" cy="435.25" r="1.9000000000000001" fill="#d8401e"/>
<circle cx="255.60" cy="433.50" r="1.9000000000000001" fill="#12679a"/>
<circle cx="251.90" cy="437.90" r="1.9000000000000001" fill="#4e2260"/>
<path d="M257.60 442.60L259.90 444.90M257.60 444.90L259.90 442.60" stroke="#a0a0a0" stroke-width="0.85" stroke-opacity="0.50" fill="none"/>
<circle cx="257.90" cy="451.25" r="2.0" fill="#d32a2a"/>
<circle cx="266.50" cy="449.60" r="1.9000000000000001" fill="#1f5aa8"/>
<circle cx="269.75" cy="448.50" r="1.9000000000000001" fill="#9c0f1e"/>
<circle cx="275.60" cy="448.50" r="2.0" fill="#d32a2a"/>
<circle cx="276.25" cy="449.75" r="2.0" fill="#9c0f1e"/>
<circle cx="270.60" cy="453.75" r="1.0" fill="#1f5aa8" fill-opacity="0.7"/>
<path d="M277.60 452.60L279.90 454.90M277.60 454.90L279.90 452.60" stroke="#f08a9a" stroke-width="0.85" stroke-opacity="0.60" fill="none"/>
<path d="M278.85 455.10L281.15 457.40M278.85 457.40L281.15 455.10" stroke="#f08a9a" stroke-width="0.85" stroke-opacity="0.60" fill="none"/>
<path d="M280.75 456.95L283.05 459.25M280.75 459.25L283.05 456.95" stroke="#f08a9a" stroke-width="0.85" stroke-opacity="0.60" fill="none"/>
<path d="M281.35 460.10L283.65 462.40M281.35 462.40L283.65 460.10" stroke="#f08a9a" stroke-width="0.85" stroke-opacity="0.60" fill="none"/>
<path d="M283.85 458.85L286.15 461.15M283.85 461.15L286.15 458.85" stroke="#f08a9a" stroke-width="0.85" stroke-opacity="0.50" fill="none"/>
<path d="M275.10 458.85L277.40 461.15M275.10 461.15L277.40 458.85" stroke="#a0a0a0" stroke-width="0.85" stroke-opacity="0.50" fill="none"/>
<circle cx="291.50" cy="460.40" r="1.9000000000000001" fill="#9c0f1e"/>
<path d="M283.85 445.10L286.15 447.40M283.85 447.40L286.15 445.10" stroke="#9fd08a" stroke-width="0.85" stroke-opacity="0.60" fill="none"/>
<path d="M285.75 446.35L288.05 448.65M285.75 448.65L288.05 446.35" stroke="#9fd08a" stroke-width="0.85" stroke-opacity="0.60" fill="none"/>
<path d="M303.85 444.45L306.15 446.75M303.85 446.75L306.15 444.45" stroke="#f2d58a" stroke-width="0.85" stroke-opacity="0.60" fill="none"/>
<path d="M304.45 467.60L306.75 469.90M304.45 469.90L306.75 467.60" stroke="#22a0c4" stroke-width="0.85" stroke-opacity="0.60" fill="none"/>
<path d="M258.85 465.10L261.15 467.40M258.85 467.40L261.15 465.10" stroke="#8ccbe8" stroke-width="0.85" stroke-opacity="0.60" fill="none"/>
<path d="M265.75 467.60L268.05 469.90M265.75 469.90L268.05 467.60" stroke="#8ccbe8" stroke-width="0.85" stroke-opacity="0.60" fill="none"/>
<path d="M267.60 468.25L269.90 470.55M267.60 470.55L269.90 468.25" stroke="#8ccbe8" stroke-width="0.85" stroke-opacity="0.60" fill="none"/>
<path d="M263.85 470.10L266.15 472.40M263.85 472.40L266.15 470.10" stroke="#8ccbe8" stroke-width="0.85" stroke-opacity="0.60" fill="none"/>
<path d="M271.35 469.45L273.65 471.75M271.35 471.75L273.65 469.45" stroke="#8ccbe8" stroke-width="0.85" stroke-opacity="0.60" fill="none"/>
<path d="M273.25 468.85L275.55 471.15M273.25 471.15L275.55 468.85" stroke="#f08a9a" stroke-width="0.85" stroke-opacity="0.60" fill="none"/>
<path d="M281.35 470.10L283.65 472.40M281.35 472.40L283.65 470.10" stroke="#8ccbe8" stroke-width="0.85" stroke-opacity="0.60" fill="none"/>
<path d="M285.10 468.85L287.40 471.15M285.10 471.15L287.40 468.85" stroke="#8ccbe8" stroke-width="0.85" stroke-opacity="0.60" fill="none"/>
<path d="M261.85 471.85L264.15 474.15M261.85 474.15L264.15 471.85" stroke="#f08a9a" stroke-width="0.85" stroke-opacity="0.50" fill="none"/>
<path d="M276.85 471.85L279.15 474.15M276.85 474.15L279.15 471.85" stroke="#f08a9a" stroke-width="0.85" stroke-opacity="0.50" fill="none"/>
<path d="M244.45 454.45L246.75 456.75M244.45 456.75L246.75 454.45" stroke="#f08a9a" stroke-width="0.85" stroke-opacity="0.50" fill="none"/>
<path d="M250.75 454.45L253.05 456.75M250.75 456.75L253.05 454.45" stroke="#a0a0a0" stroke-width="0.85" stroke-opacity="0.50" fill="none"/>
<circle cx="317.80" cy="425.70" r="2.0" fill="#278c46"/>
<circle cx="319.80" cy="432.20" r="2.0" fill="#d8401e"/>
<path d="M329.65 442.35L331.95 444.65M329.65 444.65L331.95 442.35" stroke="#22a0c4" stroke-width="0.85" stroke-opacity="0.60" fill="none"/>
<path d="M304.55 467.45L306.85 469.75M304.55 469.75L306.85 467.45" stroke="#278c46" stroke-width="0.85" stroke-opacity="0.60" fill="none"/>
<path d="M102.56 208.87L104.63 210.94M102.56 210.94L104.63 208.87" stroke="#a0a0a0" stroke-width="0.85" stroke-opacity="0.45" fill="none"/>
<path d="M104.37 208.87L106.44 210.94M104.37 210.94L106.44 208.87" stroke="#f08a9a" stroke-width="0.85" stroke-opacity="0.45" fill="none"/>
<path d="M110.37 208.87L112.44 210.94M110.37 210.94L112.44 208.87" stroke="#8ccbe8" stroke-width="0.85" stroke-opacity="0.45" fill="none"/>
<path d="M112.17 208.87L114.23 210.94M112.17 210.94L114.23 208.87" stroke="#a0a0a0" stroke-width="0.85" stroke-opacity="0.45" fill="none"/>
<path d="M124.27 208.87L126.33 210.94M124.27 210.94L126.33 208.87" stroke="#f08a9a" stroke-width="0.85" stroke-opacity="0.45" fill="none"/>
<path d="M125.97 208.87L128.03 210.94M125.97 210.94L128.03 208.87" stroke="#8ccbe8" stroke-width="0.85" stroke-opacity="0.45" fill="none"/>
<path d="M131.16 208.87L133.23 210.94M131.16 210.94L133.23 208.87" stroke="#b0a0d0" stroke-width="0.85" stroke-opacity="0.45" fill="none"/>
<path d="M134.66 208.87L136.73 210.94M134.66 210.94L136.73 208.87" stroke="#a0a0a0" stroke-width="0.85" stroke-opacity="0.45" fill="none"/>
<path d="M136.37 208.87L138.44 210.94M136.37 210.94L138.44 208.87" stroke="#f08a9a" stroke-width="0.85" stroke-opacity="0.45" fill="none"/>
<path d="M138.97 208.87L141.03 210.94M138.97 210.94L141.03 208.87" stroke="#8ccbe8" stroke-width="0.85" stroke-opacity="0.45" fill="none"/>
<path d="M141.56 208.87L143.63 210.94M141.56 210.94L143.63 208.87" stroke="#a0a0a0" stroke-width="0.85" stroke-opacity="0.45" fill="none"/>
<path d="M144.16 208.87L146.23 210.94M144.16 210.94L146.23 208.87" stroke="#f08a9a" stroke-width="0.85" stroke-opacity="0.45" fill="none"/>
<path d="M147.56 208.87L149.63 210.94M147.56 210.94L149.63 208.87" stroke="#8ccbe8" stroke-width="0.85" stroke-opacity="0.45" fill="none"/>
<path d="M151.06 208.87L153.13 210.94M151.06 210.94L153.13 208.87" stroke="#b0a0d0" stroke-width="0.85" stroke-opacity="0.45" fill="none"/>
<path d="M155.37 208.87L157.44 210.94M155.37 210.94L157.44 208.87" stroke="#a0a0a0" stroke-width="0.85" stroke-opacity="0.45" fill="none"/>
<path d="M157.97 208.87L160.03 210.94M157.97 210.94L160.03 208.87" stroke="#f08a9a" stroke-width="0.85" stroke-opacity="0.45" fill="none"/>
<path d="M176.16 208.87L178.23 210.94M176.16 210.94L178.23 208.87" stroke="#8ccbe8" stroke-width="0.85" stroke-opacity="0.45" fill="none"/>
<path d="M395.66 208.87L397.74 210.94M395.66 210.94L397.74 208.87" stroke="#a0a0a0" stroke-width="0.85" stroke-opacity="0.45" fill="none"/>
<path d="M403.76 208.87L405.84 210.94M403.76 210.94L405.84 208.87" stroke="#f08a9a" stroke-width="0.85" stroke-opacity="0.45" fill="none"/>
<path d="M410.96 208.87L413.04 210.94M410.96 210.94L413.04 208.87" stroke="#8ccbe8" stroke-width="0.85" stroke-opacity="0.45" fill="none"/>
<path d="M414.76 208.87L416.84 210.94M414.76 210.94L416.84 208.87" stroke="#b0a0d0" stroke-width="0.85" stroke-opacity="0.45" fill="none"/>
<path d="M416.96 208.87L419.04 210.94M416.96 210.94L419.04 208.87" stroke="#a0a0a0" stroke-width="0.85" stroke-opacity="0.45" fill="none"/>
<path d="M419.36 208.87L421.44 210.94M419.36 210.94L421.44 208.87" stroke="#f08a9a" stroke-width="0.85" stroke-opacity="0.45" fill="none"/>
<path d="M400.15 200.05L402.45 202.35M400.15 202.35L402.45 200.05" stroke="#f08a9a" stroke-width="0.85" stroke-opacity="0.55" fill="none"/>
<path d="M406.55 197.15L408.85 199.45M406.55 199.45L408.85 197.15" stroke="#f08a9a" stroke-width="0.85" stroke-opacity="0.55" fill="none"/>
<path d="M405.35 205.85L407.65 208.15M405.35 208.15L407.65 205.85" stroke="#f08a9a" stroke-width="0.85" stroke-opacity="0.55" fill="none"/>
<path d="M413.45 205.25L415.75 207.55M413.45 207.55L415.75 205.25" stroke="#c080a0" stroke-width="0.85" stroke-opacity="0.55" fill="none"/>
<path d="M409.45 203.55L411.75 205.85M409.45 205.85L411.75 203.55" stroke="#40a090" stroke-width="0.85" stroke-opacity="0.55" fill="none"/>
<path d="M425.55 203.55L427.85 205.85M425.55 205.85L427.85 203.55" stroke="#f08a9a" stroke-width="0.85" stroke-opacity="0.55" fill="none"/>
<path d="M399.65 204.05L401.95 206.35M399.65 206.35L401.95 204.05" stroke="#f08a9a" stroke-width="0.85" stroke-opacity="0.55" fill="none"/>
<path d="M272.45 468.85L274.75 471.15M272.45 471.15L274.75 468.85" stroke="#8050a0" stroke-width="0.85" stroke-opacity="0.60" fill="none"/>
<path d="M282.35 470.55L284.65 472.85M282.35 472.85L284.65 470.55" stroke="#4090a0" stroke-width="0.85" stroke-opacity="0.60" fill="none"/>
</g>
</svg></body></html>
